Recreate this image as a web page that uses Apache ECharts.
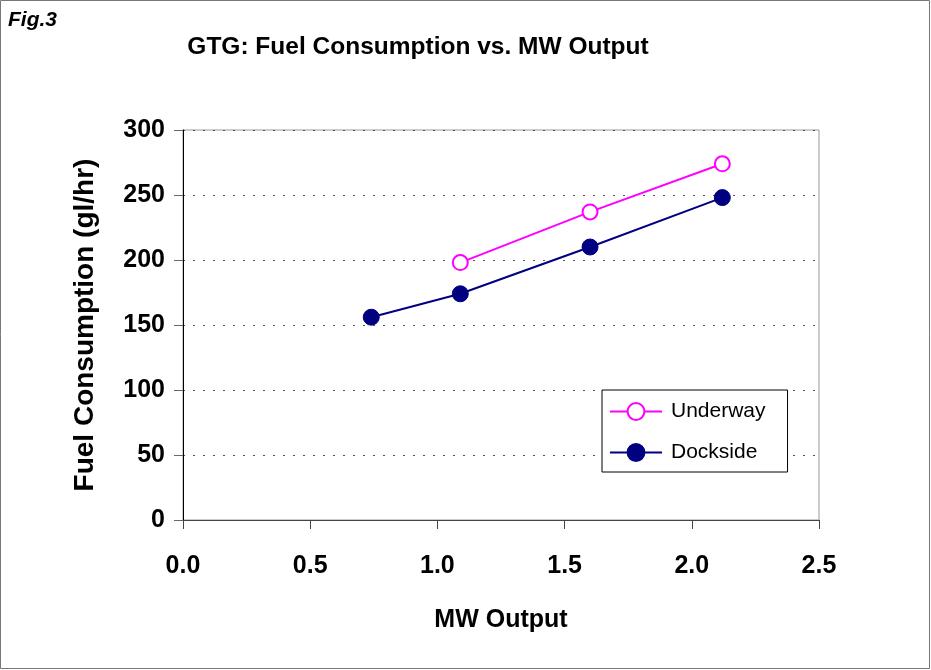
<!DOCTYPE html>
<html>
<head>
<meta charset="utf-8">
<script src="https://cdn.jsdelivr.net/npm/echarts@6/dist/echarts.min.js"></script>
<style>
html, body {margin: 0; padding: 0; background: #fff;}
#chart {width: 931px; height: 670px;}
</style>
</head>
<body>
<div id="chart"></div>
<script>
const seriesNames = ['Underway', 'Dockside'];
const underwayX = [1.09, 1.60, 2.12];
const underwayY = [198, 237, 274];
const docksideX = [0.74, 1.09, 1.60, 2.12];
const docksideY = [156, 174, 210, 248];

const font = '"Liberation Sans", Arial, sans-serif';

const pairs = (xs, ys) => xs.map((x, i) => [x, ys[i]]);

const chart = echarts.init(document.getElementById('chart'), null, {renderer: 'canvas'});

chart.setOption({
	animation: false,
	backgroundColor: '#fff',
	grid: {left: 183, right: 112, top: 130, bottom: 150, show: true, borderColor: '#999', borderWidth: 1},
	title: {
		text: 'GTG: Fuel Consumption vs. MW Output',
		left: 413, top: 30, textAlign: 'center',
		textStyle: {fontFamily: font, fontWeight: 'bold', fontSize: 24.5, color: '#000'}
	},
	graphic: [
		{type: 'rect', shape: {x: 0.5, y: 0.5, width: 929, height: 668},
			style: {fill: 'none', stroke: '#777', lineWidth: 1}},
		{type: 'text', left: 8, top: 10,
			style: {text: 'Fig.3', font: 'italic bold 21px ' + font, fill: '#000'}}
	],
	legend: {
		left: 602, top: 390,
		orient: 'vertical',
		backgroundColor: '#fff', borderColor: '#000', borderWidth: 1,
		padding: [11, 22, 9, 7],
		itemWidth: 52, itemHeight: 21, itemGap: 20,
		textStyle: {fontFamily: font, fontSize: 21, color: '#000', padding: [0, 0, 0, 4]},
		data: seriesNames
	},
	xAxis: {
		type: 'value', min: 0, max: 2.5, interval: 0.5,
		name: 'MW Output', nameLocation: 'middle', nameGap: 88,
		nameTextStyle: {fontFamily: font, fontWeight: 'bold', fontSize: 25, color: '#000'},
		axisLine: {show: true, onZero: false, lineStyle: {color: '#444', width: 1}},
		axisTick: {show: true, length: 9, lineStyle: {color: '#444'}},
		axisLabel: {margin: 34, fontFamily: font, fontWeight: 'bold', fontSize: 25, color: '#000',
			formatter: v => v.toFixed(1)},
		splitLine: {show: false}
	},
	yAxis: {
		type: 'value', min: 0, max: 300, interval: 50,
		name: 'Fuel Consumption (gl/hr)', nameLocation: 'middle', nameGap: 84,
		nameTextStyle: {fontFamily: font, fontWeight: 'bold', fontSize: 28, color: '#000'},
		axisLine: {show: true, onZero: false, lineStyle: {color: '#000', width: 1}},
		axisTick: {show: true, length: 9, lineStyle: {color: '#666'}},
		axisLabel: {margin: 18, fontFamily: font, fontWeight: 'bold', fontSize: 25, color: '#000'},
		splitLine: {show: true, lineStyle: {color: '#555', type: [2, 8], width: 1}}
	},
	series: [
		{
			name: seriesNames[0], type: 'line',
			data: pairs(underwayX, underwayY),
			symbol: 'circle', symbolSize: 15,
			lineStyle: {color: '#ff00ff', width: 2},
			itemStyle: {color: '#fff', borderColor: '#ff00ff', borderWidth: 2}
		},
		{
			name: seriesNames[1], type: 'line',
			data: pairs(docksideX, docksideY),
			symbol: 'circle', symbolSize: 16,
			lineStyle: {color: '#000080', width: 2},
			itemStyle: {color: '#000080', borderColor: '#000080', borderWidth: 1}
		}
	]
});
</script>
</body>
</html>
